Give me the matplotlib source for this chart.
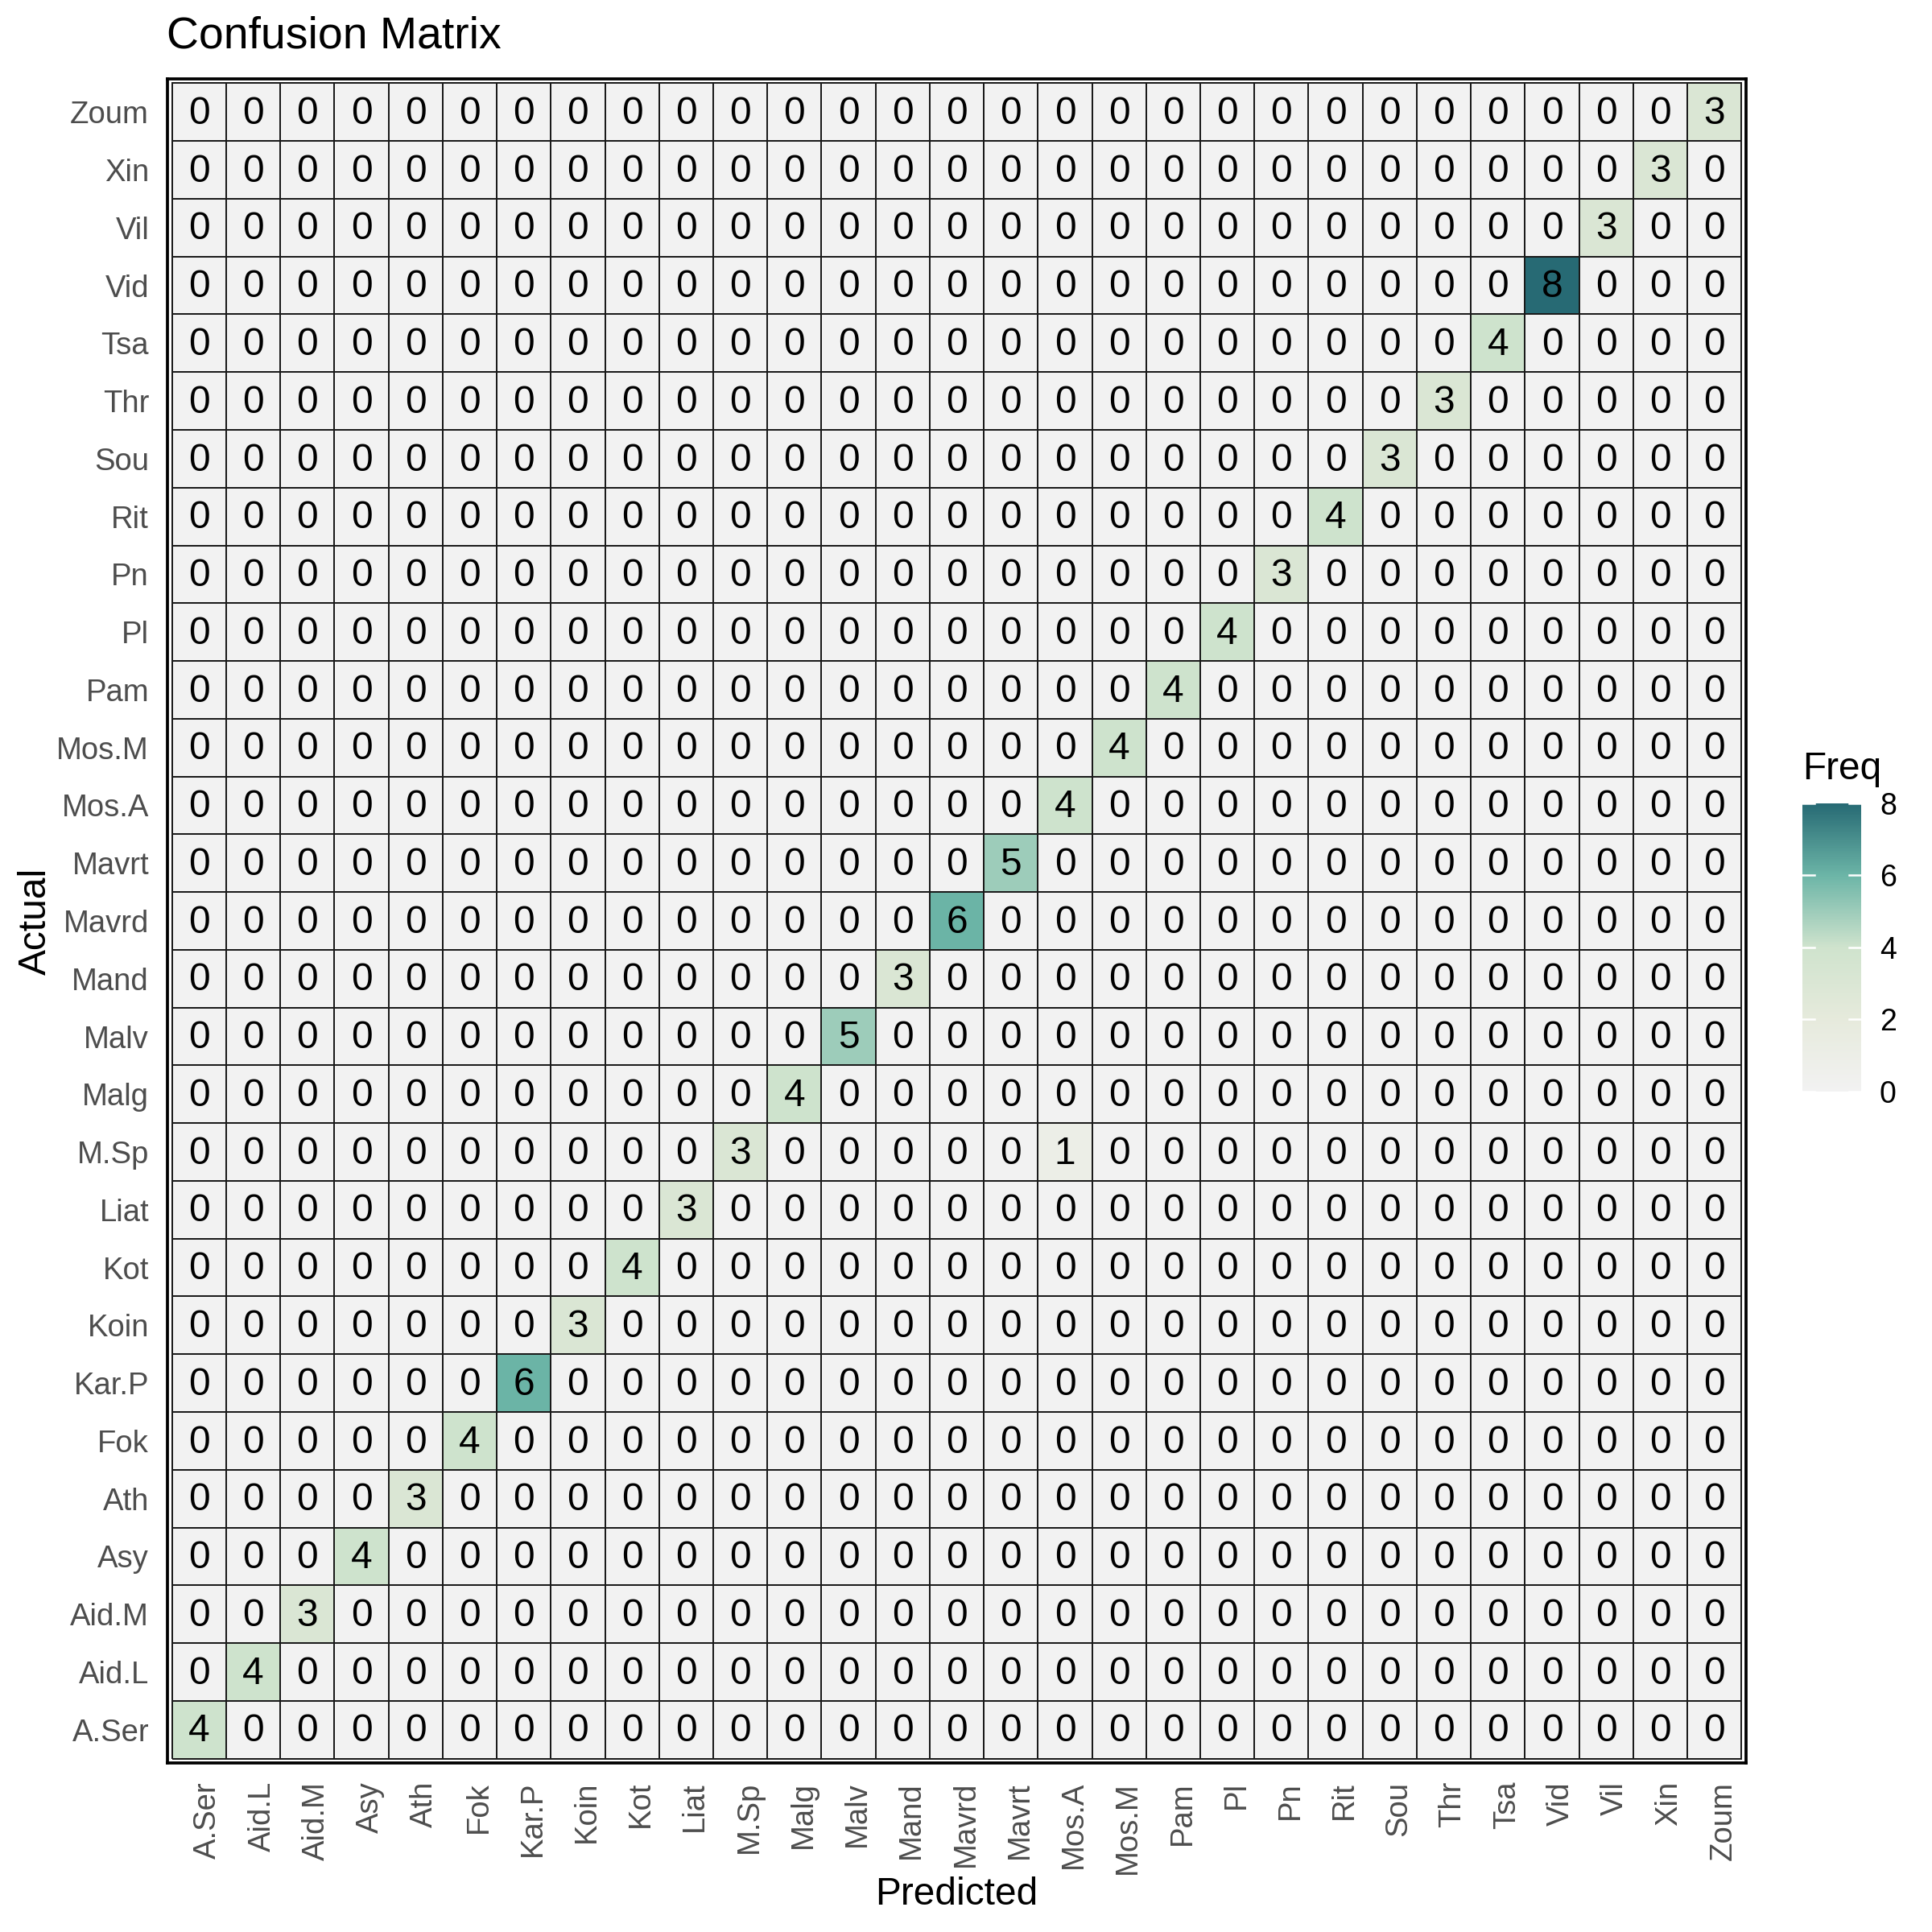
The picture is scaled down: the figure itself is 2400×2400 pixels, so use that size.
import matplotlib
matplotlib.use("Agg")
import matplotlib.pyplot as plt
import matplotlib.transforms as mtransforms
import numpy as np
from matplotlib.colors import LinearSegmentedColormap

plt.rcParams["font.family"] = ["Liberation Sans", "DejaVu Sans"]

classes = ["A.Ser", "Aid.L", "Aid.M", "Asy", "Ath", "Fok", "Kar.P", "Koin", "Kot",
           "Liat", "M.Sp", "Malg", "Malv", "Mand", "Mavrd", "Mavrt", "Mos.A", "Mos.M",
           "Pam", "Pl", "Pn", "Rit", "Sou", "Thr", "Tsa", "Vid", "Vil", "Xin", "Zoum"]
# correct predictions per class (diagonal)
diag_counts = [4, 4, 3, 4, 3, 4, 6, 3, 4, 3, 3, 4, 5, 3, 6, 5, 4, 4, 4, 4, 3, 4, 3, 3,
               4, 8, 3, 3, 3]
# misclassifications: (actual, predicted, count)
off_diag = [("M.Sp", "Mos.A", 1)]

n = len(classes)
mat = np.zeros((n, n), dtype=int)
for i, v in enumerate(diag_counts):
    mat[i, i] = v
for a, p, v in off_diag:
    mat[classes.index(a), classes.index(p)] = v

cmap = LinearSegmentedColormap.from_list(
    "freq",
    [(0.0, "#F2F2F2"), (0.25, "#E6EADC"), (0.5, "#CFE3CD"),
     (0.75, "#6CB5A7"), (1.0, "#276A74")])

fig = plt.figure(figsize=(8, 8), dpi=300)
W = H = 2400.0
ax = fig.add_axes([208 / W, 1 - 2190 / H, (2169 - 208) / W, (2190 - 98) / H])

edges = np.arange(n + 1) - 0.5
mesh = ax.pcolormesh(edges, edges, mat, cmap=cmap, vmin=0, vmax=8,
                     edgecolors="#1a1a1a", linewidth=0.45)
for i in range(n):
    for j in range(n):
        ax.text(j, i - 0.03, str(mat[i, j]), ha="center", va="center",
                fontsize=11.5, color="black")

padx, pady = 0.085, 0.075
ax.set_xlim(-0.5 - padx, n - 0.5 + padx)
ax.set_ylim(-0.5 - pady, n - 0.5 + pady)
ax.set_xticks(range(n))
ax.set_yticks(range(n))
ax.set_xticklabels(classes, rotation=90, fontsize=9.2, color="#4D4D4D")
ax.set_yticklabels(classes, fontsize=9.2, color="#4D4D4D")
ax.tick_params(length=0, pad=5.5)
shift = mtransforms.ScaledTranslation(11 / 300, 0, fig.dpi_scale_trans)
for lbl in ax.get_xticklabels():
    lbl.set_transform(lbl.get_transform() + shift)
for s in ax.spines.values():
    s.set_linewidth(0.9)
    s.set_color("black")

fig.text(1188 / W, 1 - 2354 / H, "Predicted", fontsize=11.5, ha="center", va="center")
fig.text(44 / W, 1 - 1144 / H, "Actual", fontsize=11.5, rotation=90,
         ha="center", va="center")
fig.text(207 / W, 1 - 45 / H, "Confusion Matrix", fontsize=13.3,
         ha="left", va="center")

# colour bar
cax = fig.add_axes([2239 / W, 1 - 1356 / H, 73 / W, 358 / H])
cb = fig.colorbar(mesh, cax=cax, ticks=[0, 2, 4, 6, 8])
cb.outline.set_visible(False)
cax.tick_params(length=0, pad=5.5, labelsize=9)
for t in [0, 2, 4, 6, 8]:
    cax.plot([0, 0.2], [t, t], color="white", lw=0.6, transform=cax.get_yaxis_transform())
    cax.plot([0.8, 1.0], [t, t], color="white", lw=0.6, transform=cax.get_yaxis_transform())
fig.text(2239 / W, 1 - 955 / H, "Freq", fontsize=11.5, ha="left", va="center")

fig.savefig("out.png", dpi=300)
